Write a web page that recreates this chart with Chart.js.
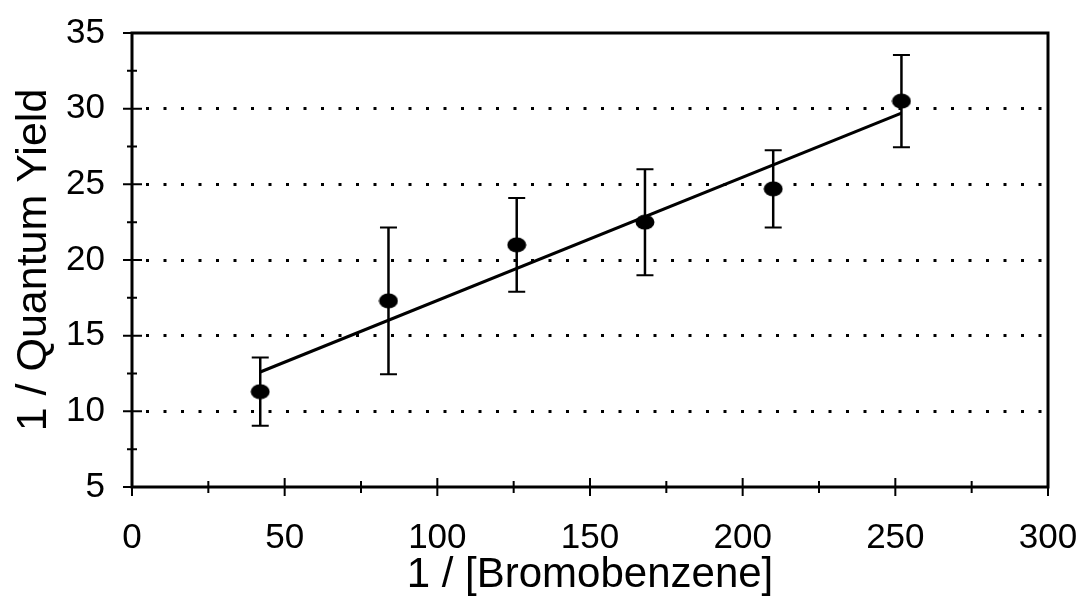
<!DOCTYPE html>
<html>
<head>
<meta charset="utf-8">
<script src="https://cdn.jsdelivr.net/npm/chart.js@4/dist/chart.umd.min.js"></script>
<style>
  html, body { margin: 0; padding: 0; background: #fff; }
  #wrap { width: 1079px; height: 609px; position: relative; }
</style>
</head>
<body>
<div id="wrap"><canvas id="c" width="1079" height="609"></canvas></div>
<script>
// ---- data ----
const concX = [42, 84, 126, 168, 210, 252];          // 1 / [Bromobenzene]
const invYield = [11.3, 17.3, 21.0, 22.5, 24.7, 30.5]; // 1 / Quantum Yield
const yErr = [2.25, 4.85, 3.1, 3.5, 2.55, 3.05];      // symmetric error bars
const fitX = [42, 252];
const fitY = [12.6, 29.7];
const xMajorTicks = [0, 50, 100, 150, 200, 250, 300];
const xMinorTicks = [25, 75, 125, 175, 225, 275];
const yMajorTicks = [5, 10, 15, 20, 25, 30, 35];
const yMinorTicks = [7.5, 12.5, 17.5, 22.5, 27.5, 32.5];
const xTitle = '1 / [Bromobenzene]';
const yTitle = '1 / Quantum Yield';

const FONT = "'Liberation Sans', Arial, Helvetica, sans-serif";

// ellipse marker
const marker = document.createElement('canvas');
marker.width = 20; marker.height = 16;
(function(){
  const m = marker.getContext('2d');
  m.fillStyle = '#000';
  m.beginPath();
  m.ellipse(10, 8, 9.5, 7.5, 0, 0, Math.PI * 2);
  m.fill();
})();

const points = concX.map((x, i) => ({x: x, y: invYield[i]}));
const fitPts = fitX.map((x, i) => ({x: x, y: fitY[i]}));

const errorBars = {
  id: 'errorBars',
  beforeDatasetsDraw(chart) {
    const ctx = chart.ctx, xs = chart.scales.x, ys = chart.scales.y;
    ctx.save();
    ctx.strokeStyle = '#000';
    concX.forEach((x, i) => {
      const px = xs.getPixelForValue(x);
      const top = ys.getPixelForValue(invYield[i] + yErr[i]);
      const bot = ys.getPixelForValue(invYield[i] - yErr[i]);
      ctx.lineWidth = 2.5;
      ctx.beginPath();
      ctx.moveTo(px, top); ctx.lineTo(px, bot);
      ctx.stroke();
      ctx.lineWidth = 2;
      ctx.beginPath();
      ctx.moveTo(px - 8.5, top); ctx.lineTo(px + 8.5, top);
      ctx.moveTo(px - 8.5, bot); ctx.lineTo(px + 8.5, bot);
      ctx.stroke();
    });
    ctx.restore();
  }
};

const frameTicks = {
  id: 'frameTicks',
  afterDraw(chart) {
    const ctx = chart.ctx, xs = chart.scales.x, ys = chart.scales.y;
    const a = chart.chartArea;
    ctx.save();
    ctx.strokeStyle = '#000';
    ctx.lineWidth = 3;
    ctx.strokeRect(a.left, a.top, a.right - a.left, a.bottom - a.top);
    ctx.lineWidth = 2;
    ctx.beginPath();
    yMajorTicks.forEach(v => { const p = ys.getPixelForValue(v); ctx.moveTo(a.left - 9, p); ctx.lineTo(a.left + 10, p); });
    yMinorTicks.forEach(v => { const p = ys.getPixelForValue(v); ctx.moveTo(a.left - 5, p); ctx.lineTo(a.left + 5, p); });
    xMajorTicks.forEach(v => { const p = xs.getPixelForValue(v); ctx.moveTo(p, a.bottom - 9); ctx.lineTo(p, a.bottom + 9); });
    xMinorTicks.forEach(v => { const p = xs.getPixelForValue(v); ctx.moveTo(p, a.bottom - 6); ctx.lineTo(p, a.bottom + 6); });
    ctx.stroke();
    ctx.restore();
  }
};

new Chart(document.getElementById('c'), {
  type: 'scatter',
  data: {
    datasets: [
      {
        type: 'line',
        data: fitPts,
        borderColor: '#000',
        borderWidth: 3,
        pointRadius: 0,
        fill: false,
        tension: 0
      },
      {
        data: points,
        pointStyle: marker,
        pointRadius: 9,
        backgroundColor: '#000',
        borderColor: '#000'
      }
    ]
  },
  plugins: [errorBars, frameTicks],
  options: {
    responsive: false,
    animation: false,
    events: [],
    layout: { padding: { left: 0, top: 33, right: 31, bottom: 0 } },
    plugins: { legend: { display: false }, tooltip: { enabled: false } },
    scales: {
      x: {
        type: 'linear',
        min: 0, max: 300,
        afterFit(s) { s.height = 122; s.paddingLeft = 0; s.paddingRight = 0; },
        afterBuildTicks(s) { s.ticks = xMajorTicks.map(v => ({value: v})); },
        grid: { display: false, drawTicks: false },
        border: { display: false },
        ticks: { color: '#000', font: { family: FONT, size: 35 }, padding: 30, maxRotation: 0 },
        title: { display: true, text: xTitle, color: '#000', font: { family: FONT, size: 42 }, padding: { top: 0, bottom: 8 } }
      },
      y: {
        type: 'linear',
        min: 5, max: 35,
        afterFit(s) { s.width = 132; s.paddingTop = 0; s.paddingBottom = 0; },
        afterBuildTicks(s) { s.ticks = yMajorTicks.map(v => ({value: v})); },
        grid: {
          drawTicks: false,
          lineWidth: 3,
          color: c => (c.tick && (c.tick.value === 5 || c.tick.value === 35)) ? 'rgba(0,0,0,0)' : '#000'
        },
        border: { display: false, dash: [3, 14.5], dashOffset: -14 },
        ticks: { color: '#000', font: { family: FONT, size: 35 }, padding: 27 },
        title: { display: true, text: yTitle, color: '#000', font: { family: FONT, size: 43 }, padding: { top: 8, bottom: 0 } }
      }
    }
  }
});
</script>
</body>
</html>
